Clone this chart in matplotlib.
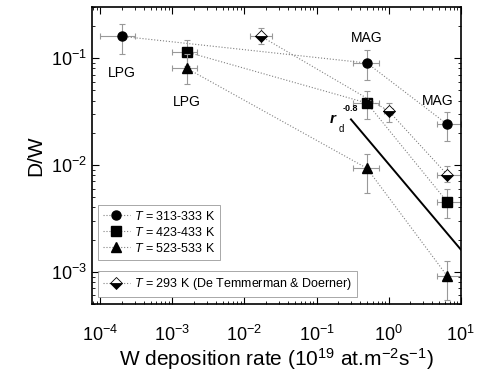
import numpy as np
import matplotlib.pyplot as plt

plt.rcParams['font.family'] = ['Liberation Sans', 'DejaVu Sans']
plt.rcParams['mathtext.fontset'] = 'custom'
plt.rcParams['mathtext.rm'] = 'Liberation Sans'
plt.rcParams['mathtext.it'] = 'Liberation Sans:italic'
plt.rcParams['mathtext.bf'] = 'Liberation Sans:bold:italic'

# Donnees
x_lo = [2e-4, 0.5, 6.5]
x_hi = [1.6e-3, 0.5, 6.5]
x_dt = [0.017, 1.0, 6.5]

y_313 = [0.16, 0.09, 0.024]
y_423 = [0.114, 0.038, 0.0045]
y_523 = [0.08, 0.0093, 0.00091]
y_293 = [0.16, 0.032, 0.0081]

# barres d'erreur (bas, haut) en y
ey_313 = [[0.11, 0.063, 0.0167], [0.21, 0.118, 0.0316]]
ey_423 = [[0.085, 0.027, 0.0032], [0.149, 0.049, 0.0059]]
ey_523 = [[0.057, 0.0055, 0.00054], [0.11, 0.0128, 0.00126]]
ey_293 = [[0.136, 0.025, 0.0069], [0.19, 0.038, 0.0097]]

# barres d'erreur (gauche, droite) en x
ex_lo = [[1e-4, 0.32, 4.7], [3e-4, 0.73, 10.]]
ex_hi = [[1e-3, 0.32, 4.7], [2.2e-3, 0.73, 10.]]
ex_dt = [[0.012, 0.86, 4.7], [0.024, 1.16, 10.]]

# loi r_d^-0.8
x_fit = [0.3, 10.]
y0_fit, x0_fit, p_fit = 0.0267, 0.3, -0.8


def err(v, e):
    v = np.array(v)
    return [v - np.array(e[0]), np.array(e[1]) - v]


fig = plt.figure(figsize=(4.82, 3.78), dpi=100)
ax = fig.add_axes([0.191, 0.196, 0.765, 0.785])

lstyle = dict(color='0.5', ls=':', lw=0.8)
estyle = dict(fmt='none', ecolor='0.6', elinewidth=0.8, capsize=2.5, capthick=0.8)

series = [
    (x_lo, y_313, ex_lo, ey_313, 'o', r'$\mathit{T}$ = 313-333 K'),
    (x_hi, y_423, ex_hi, ey_423, 's', r'$\mathit{T}$ = 423-433 K'),
    (x_hi, y_523, ex_hi, ey_523, '^', r'$\mathit{T}$ = 523-533 K'),
]
handles = []
for x, y, ex, ey, m, lab in series:
    ax.errorbar(x, y, xerr=err(x, ex), yerr=err(y, ey), **estyle)
    h, = ax.plot(x, y, marker=m, ms=6.5, mfc='k', mec='k', label=lab, **lstyle)
    handles.append(h)

ax.errorbar(x_dt, y_293, xerr=err(x_dt, ex_dt), yerr=err(y_293, ey_293), **estyle)
h4, = ax.plot(x_dt, y_293, marker='D', ms=6, fillstyle='bottom', mfc='k',
              markerfacecoloralt='white', mec='k', mew=0.6,
              label=r'$\mathit{T}$ = 293 K (De Temmerman & Doerner)', **lstyle)

xf = np.array(x_fit)
ax.plot(xf, y0_fit * (xf / x0_fit) ** p_fit, color='k', lw=1.4)

ax.text(2e-4, 0.073, 'LPG', ha='center', va='center', fontsize=10)
ax.text(1.6e-3, 0.0385, 'LPG', ha='center', va='center', fontsize=10)
ax.text(0.5, 0.156, 'MAG', ha='center', va='center', fontsize=10)
ax.text(4.8, 0.040, 'MAG', ha='center', va='center', fontsize=10)
ax.text(0.17, 0.027, r'$\mathbf{r}$', ha='center', va='center', fontsize=11)
ax.text(0.222, 0.0215, 'd', ha='center', va='center', fontsize=7)
ax.text(0.29, 0.034, '-0.8', ha='center', va='center', fontsize=6.5,
        fontweight='bold')

ax.set_xscale('log')
ax.set_yscale('log')
ax.set_xlim(7.7e-5, 10)
ax.set_ylim(5e-4, 0.3)
ax.set_xticks([1e-4, 1e-3, 1e-2, 1e-1, 1, 10])
ax.set_yticks([1e-3, 1e-2, 1e-1])
ax.tick_params(which='both', direction='in', top=True, right=True, labelsize=13)
ax.tick_params(which='major', length=5)
ax.tick_params(which='minor', length=2.5)
ax.tick_params(axis='x', pad=15)
for s in ax.spines.values():
    s.set_linewidth(1.2)

ax.set_xlabel(r'W deposition rate (10$^{19}$ at.m$^{-2}$s$^{-1}$)', fontsize=15,
              labelpad=1)
ax.set_ylabel('D/W', fontsize=15)

leg1 = ax.legend(handles=handles, loc='upper left', bbox_to_anchor=(0.015, 0.335),
                 fontsize=9, frameon=True, fancybox=False, edgecolor='0.5',
                 handlelength=2.2, handletextpad=0.3, borderpad=0.4,
                 labelspacing=0.25, borderaxespad=0)
leg1.get_frame().set_linewidth(0.6)
ax.add_artist(leg1)
leg2 = ax.legend(handles=[h4], loc='upper left', bbox_to_anchor=(0.015, 0.11),
                 fontsize=9, frameon=True, fancybox=False, edgecolor='0.5',
                 handlelength=2.2, handletextpad=0.3, borderpad=0.4,
                 borderaxespad=0)
leg2.get_frame().set_linewidth(0.6)

plt.savefig('out.png', dpi=100)
